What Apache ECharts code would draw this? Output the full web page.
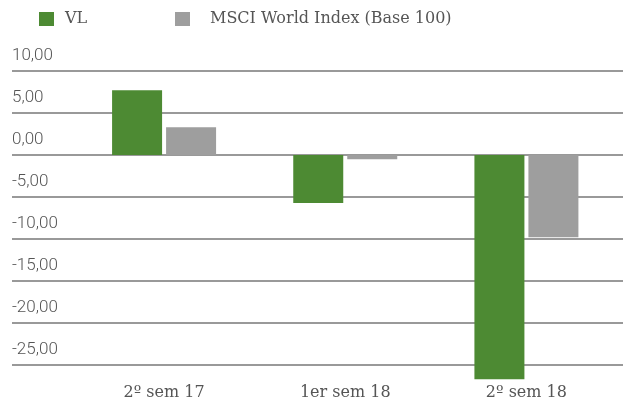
<!DOCTYPE html>
<html>
<head>
<meta charset="utf-8">
<script src="https://cdn.jsdelivr.net/npm/echarts@6/dist/echarts.min.js"></script>
<style>
  html, body { margin: 0; padding: 0; background: #fff; }
  #main { width: 623px; height: 408px; }
</style>
</head>
<body>
<div id="main"></div>
<script>
// datos
var categories = ['2º sem 17', '1er sem 18', '2º sem 18'];
var vlData = [7.7, -5.7, -26.7];
var msciData = [3.3, -0.5, -9.8];
var seriesNames = ['VL', 'MSCI World Index (Base 100)'];

var colors = ['#4d8a33', '#9e9e9e'];
var serifFont = 'DejaVu Serif';

var myChart = echarts.init(document.getElementById('main'));

var option = {
  color: colors,
  animation: false,
  legend: [
    {
      data: [seriesNames[0]],
      left: 39, top: 11,
      padding: 0,
      itemWidth: 15, itemHeight: 14,
      icon: 'rect',
      textStyle: { fontFamily: serifFont, fontSize: 16, color: '#555', padding: [0, 0, 0, 6] }
    },
    {
      data: [seriesNames[1]],
      left: 175, top: 11,
      padding: 0,
      itemWidth: 15, itemHeight: 14,
      icon: 'rect',
      textStyle: { fontFamily: serifFont, fontSize: 16, color: '#555', padding: [0, 0, 0, 15] }
    }
  ],
  grid: [
    // rejilla completa para las líneas
    { left: 12, right: 0, top: 71, bottom: 43 },
    // rejilla de las barras
    { left: 73.5, right: 6, top: 71, bottom: 43 }
  ],
  xAxis: [
    { gridIndex: 0, type: 'category', data: categories, show: false },
    {
      gridIndex: 1,
      type: 'category',
      data: categories,
      axisLine: { show: false },
      axisTick: { show: false },
      axisLabel: {
        margin: 20,
        fontFamily: serifFont,
        fontSize: 16,
        color: '#555'
      }
    }
  ],
  yAxis: [
    {
      gridIndex: 0,
      type: 'value',
      min: -25, max: 10, interval: 5,
      axisLine: { show: false },
      axisTick: { show: false },
      splitLine: { lineStyle: { color: '#777', width: 1.5 } },
      axisLabel: {
        inside: true,
        margin: 0,
        verticalAlign: 'bottom',
        padding: [0, 0, 7, 0],
        fontFamily: 'Roboto',
        fontWeight: 300,
        fontSize: 17,
        color: '#555',
        formatter: function (v) { return v.toFixed(2).replace('.', ','); }
      }
    },
    {
      gridIndex: 1,
      type: 'value',
      min: -25, max: 10, interval: 5,
      show: false,
      splitLine: { show: false }
    }
  ],
  series: [
    {
      name: seriesNames[0],
      type: 'bar',
      xAxisIndex: 1, yAxisIndex: 1,
      data: vlData,
      barWidth: 50,
      barGap: '8%',
      clip: false
    },
    {
      name: seriesNames[1],
      type: 'bar',
      xAxisIndex: 1, yAxisIndex: 1,
      data: msciData,
      barWidth: 50,
      barGap: '8%',
      clip: false
    }
  ]
};

myChart.setOption(option);
</script>
</body>
</html>
